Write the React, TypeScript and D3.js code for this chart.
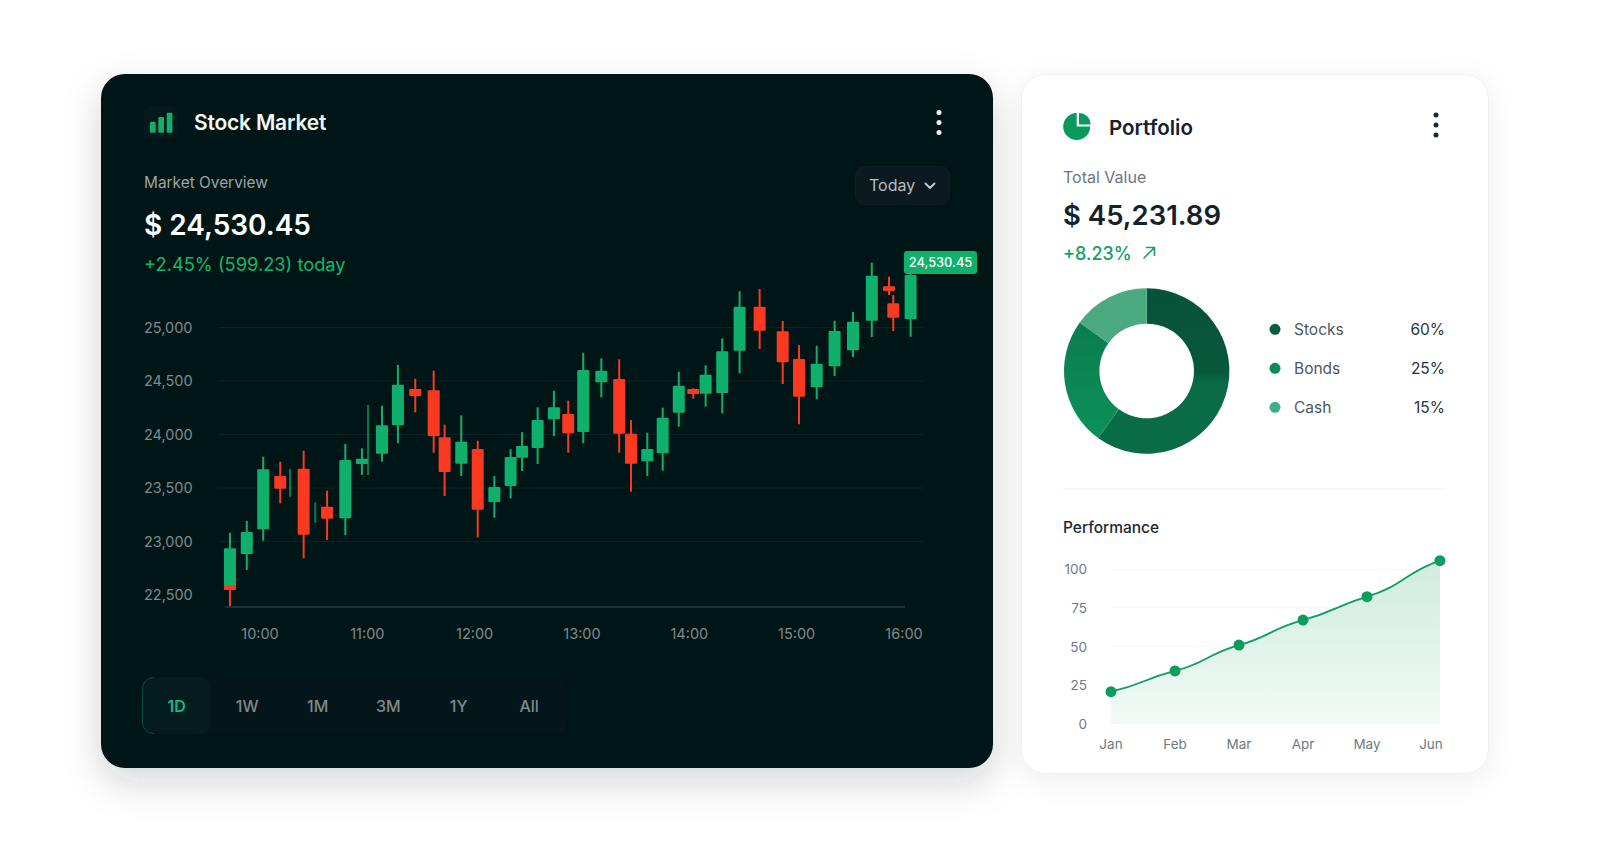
import * as d3 from "d3";

const FONT = "Inter, 'Noto Sans', sans-serif";

// candles: minutes after 10:00 and prices
const candleTimes = [-16.8, -16.8, -7.4, 1.8, 11.3, 16.8, 24.4, 30.9, 37.5, 47.7, 57, 60.4, 68.2, 77.1, 86.8, 97.1, 103.2, 112.5, 121.7, 131, 140.1, 146.5, 155.2, 164.3, 172.3, 180.7, 190.8, 200.8, 207.4, 216.5, 225.1, 234.1, 242.2, 249.1, 258.4, 268.1, 279.3, 292.2, 301.3, 311.2, 321.2, 331.5, 342, 351.6, 354, 363.7];
const candleOpens = [22563, 22593, 22883, 23114, 23612, 23550, 23680, 23270, 23325, 23217, 23724, 23950, 23821, 24086, 24425, 24413, 23974, 23727, 23864, 23369, 23519, 23783, 23874, 24142, 24192, 24023, 24488, 24519, 24007, 23750, 23824, 24204, 24425, 24381, 24388, 24783, 25194, 24964, 24706, 24441, 24637, 24787, 25064, 25385, 25226, 25077];
const candleCloses = [22936, 22547, 23089, 23675, 23493, 23550, 23064, 23270, 23213, 23762, 23774, 23950, 24086, 24465, 24360, 23986, 23649, 23933, 23297, 23509, 23790, 23893, 24135, 24254, 24011, 24603, 24596, 24007, 23727, 23864, 24157, 24456, 24378, 24559, 24778, 25194, 24970, 24675, 24353, 24662, 24967, 25054, 25484, 25341, 25092, 25491];
const candleHighs = [23082, 22593, 23192, 23793, 23746, 23678, 23849, 23366, 23475, 23911, 23871, 24276, 24269, 24650, 24521, 24596, 24092, 24179, 23942, 23612, 23862, 24023, 24254, 24409, 24316, 24764, 24712, 24703, 24135, 24017, 24250, 24587, 24432, 24647, 24899, 25338, 25360, 25061, 24836, 24830, 25064, 25145, 25606, 25475, 25304, 25537];
const candleLows = [22563, 22397, 22734, 23007, 23357, 23419, 22843, 23176, 23014, 23061, 23621, 23621, 23746, 23918, 24207, 23830, 23425, 23612, 23039, 23222, 23404, 23659, 23724, 23986, 23830, 23918, 24348, 23830, 23465, 23612, 23662, 24073, 24335, 24260, 24198, 24572, 24799, 24472, 24095, 24329, 24547, 24724, 24911, 25304, 24967, 24914];

const priceTicks = [25000, 24500, 24000, 23500, 23000, 22500];
const hourLabels = ["10:00", "11:00", "12:00", "13:00", "14:00", "15:00", "16:00"];
const rangeLabels = ["1D", "1W", "1M", "3M", "1Y", "All"];

// portfolio
const allocNames = ["Stocks", "Bonds", "Cash"];
const allocValues = [60, 25, 15];
const allocColors = ["url(#stocksFill)", "url(#bondsFill)", "#4aa981"];
const allocDots = ["#0a5a40", "#0d8a5a", "#3fae84"];

// performance
const months = ["Jan", "Feb", "Mar", "Apr", "May", "Jun"];
const perfSlots = [0, 1, 2, 3, 4, 5.14];
const perfValues = [20.9, 34.3, 51, 67.2, 82.3, 105.6];
const perfTicks = [100, 75, 50, 25, 0];

const GREEN = "#0fb06c";
const RED = "#f93a20";

const x = d3.scaleLinear().domain([0, 360]).range([260, 904]);
const y = d3.scaleLinear().domain([22500, 25000]).range([595, 327.5]);
const priceFmt = d3.format(",");

const px = d3.scaleLinear().domain([0, 5]).range([1111, 1431]);
const py = d3.scaleLinear().domain([0, 100]).range([724, 569.3]);

const donutArc = d3.arc<d3.PieArcDatum<number>>().innerRadius(47.3).outerRadius(82.7);
const donutSlices = d3.pie<number>().sort(null)(allocValues);

const perfPoints = perfValues.map((v, i) => [px(perfSlots[i]), py(v)] as [number, number]);

// the line eases off at every point, so tangents are a fraction of the neighbour slope
function wavyPath(pts: [number, number][], tension: number) {
  const slope = (i: number) => {
    const a = pts[Math.max(i - 1, 0)];
    const b = pts[Math.min(i + 1, pts.length - 1)];
    return (tension * (b[1] - a[1])) / (b[0] - a[0]);
  };
  const p = d3.path();
  p.moveTo(pts[0][0], pts[0][1]);
  for (let i = 1; i < pts.length; i++) {
    const dx = (pts[i][0] - pts[i - 1][0]) / 2;
    p.bezierCurveTo(
      pts[i - 1][0] + dx,
      pts[i - 1][1] + slope(i - 1) * dx,
      pts[i][0] - dx,
      pts[i][1] - slope(i) * dx,
      pts[i][0],
      pts[i][1]
    );
  }
  return p.toString();
}

const perfLine = wavyPath(perfPoints, 0.7);
const perfArea = `${perfLine}L${perfPoints[perfPoints.length - 1][0]},${py(0)}L${perfPoints[0][0]},${py(0)}Z`;

const pieMain = d3.arc()({ innerRadius: 0, outerRadius: 13.5, startAngle: Math.PI / 2, endAngle: Math.PI * 2 }) ?? "";
const pieWedge = d3.arc()({ innerRadius: 0, outerRadius: 11.5, startAngle: 0, endAngle: Math.PI / 2 }) ?? "";

function Kebab({ cx, cy, fill }: { cx: number; cy: number; fill: string }) {
  return (
    <g fill={fill}>
      {[-10, 0, 10].map((d) => (
        <circle key={d} cx={cx} cy={cy + d} r={2.5} />
      ))}
    </g>
  );
}

export default function App() {
  return (
    <svg
      width={1600}
      height={868}
      viewBox="0 0 1600 868"
      style={{ position: "absolute", left: 0, top: 0, display: "block", fontFamily: FONT }}
    >
      <defs>
        <filter id="darkShadow" x="-10%" y="-10%" width="120%" height="130%">
          <feDropShadow dx={0} dy={14} stdDeviation={18} floodColor="#0a1a1e" floodOpacity={0.18} />
        </filter>
        <filter id="lightShadow" x="-10%" y="-10%" width="120%" height="120%">
          <feDropShadow dx={0} dy={6} stdDeviation={14} floodColor="#0a1a1e" floodOpacity={0.07} />
        </filter>
        <linearGradient id="areaFill" x1="0" y1="0" x2="0" y2="1">
          <stop offset="0%" stopColor="#cfecdd" />
          <stop offset="100%" stopColor="#f1faf6" />
        </linearGradient>
        <linearGradient id="stocksFill" gradientUnits="userSpaceOnUse" x1={0} y1={-82} x2={0} y2={82}>
          <stop offset="0%" stopColor="#07533a" />
          <stop offset="50%" stopColor="#07573b" />
          <stop offset="58%" stopColor="#0a6b47" />
          <stop offset="100%" stopColor="#0a6b47" />
        </linearGradient>
        <linearGradient id="bondsFill" gradientUnits="userSpaceOnUse" x1={0} y1={-60} x2={0} y2={70}>
          <stop offset="0%" stopColor="#0b7a50" />
          <stop offset="100%" stopColor="#0b9159" />
        </linearGradient>
      </defs>

      <rect width={1600} height={868} fill="#ffffff" />

      {/* dark card */}
      <rect x={101} y={74} width={892} height={694} rx={24} fill="#031218" filter="url(#darkShadow)" />

      <rect x={144} y={106} width={33} height={33} rx={7} fill="#05191c" />
      <g fill={GREEN}>
        <rect x={150} y={121.7} width={5.7} height={11} rx={1} />
        <rect x={158.3} y={117} width={5.7} height={15.7} rx={1} />
        <rect x={166.7} y={112.7} width={5.7} height={20} rx={1} />
      </g>
      <text x={194} y={130} fontSize={21} fontWeight={600} letterSpacing={-0.2} fill="#f4f6f6">Stock Market</text>
      <Kebab cx={939} cy={122.5} fill="#f0f2f2" />

      <text x={144} y={188} fontSize={15.4} fill="#9aa5a8">Market Overview</text>
      <text x={144} y={235} fontSize={28} fontWeight={600} fill="#ffffff">$ 24,530.45</text>
      <text x={144} y={271} fontSize={18.3} fill="#12b76f">+2.45% (599.23) today</text>

      <rect x={855.5} y={166.5} width={94} height={38} rx={9} fill="#0a1a20" stroke="#0f1f25" />
      <text x={869} y={191} fontSize={16} fill="#b5bec0">Today</text>
      <path d="M925.5 183.5 l4.5 4.5 l4.5 -4.5" fill="none" stroke="#c5cccd" strokeWidth={1.8} strokeLinecap="round" strokeLinejoin="round" />

      {/* price grid */}
      {priceTicks.slice(0, -1).map((t) => (
        <line key={t} x1={218} x2={923} y1={y(t)} y2={y(t)} stroke="#0e2024" />
      ))}
      <line x1={225} x2={905} y1={607} y2={607} stroke="#3d4a4d" />
      {priceTicks.map((t) => (
        <text key={t} x={144} y={y(t) + 5} fontSize={14.5} fill="#7f8a8d">{priceFmt(t)}</text>
      ))}
      {hourLabels.map((h, i) => (
        <text key={h} x={x(i * 60)} y={639} fontSize={14.5} fill="#7f8a8d" textAnchor="middle">{h}</text>
      ))}

      {/* candles */}
      {candleTimes.map((t, i) => {
        const o = candleOpens[i];
        const c = candleCloses[i];
        const up = c >= o;
        const col = up ? GREEN : RED;
        const cx = x(t);
        return (
          <g key={i} opacity={o === c ? 0.65 : 1}>
            <line x1={cx} x2={cx} y1={y(candleHighs[i])} y2={y(candleLows[i])} stroke={col} strokeWidth={2} />
            {o !== c && (
              <rect
                x={cx - 6}
                y={y(Math.max(o, c))}
                width={12}
                height={Math.abs(y(o) - y(c))}
                rx={1}
                fill={col}
              />
            )}
          </g>
        );
      })}

      <rect x={904} y={251} width={73} height={23} rx={3} fill={GREEN} />
      <text x={940.5} y={267} fontSize={12.8} fontWeight={500} fill="#ffffff" textAnchor="middle">24,530.45</text>

      {/* range buttons */}
      <rect x={142} y={677} width={425} height={57} rx={12} fill="#05161b" />
      <rect x={142} y={677} width={68} height={57} rx={12} fill="#051c1f" />
      <path d="M154 677.5 h-1 a11 11 0 0 0 -10.5 11 v34 a11 11 0 0 0 10.5 11 h1" fill="none" stroke="#0d4a3a" />
      {rangeLabels.map((r, i) => (
        <text
          key={r}
          x={176.7 + i * 70.5}
          y={711.5}
          fontSize={16}
          fontWeight={i === 0 ? 600 : 500}
          fill={i === 0 ? "#10b981" : "#7f8a8d"}
          textAnchor="middle"
        >
          {r}
        </text>
      ))}

      {/* portfolio card */}
      <rect x={1021.5} y={74.5} width={467} height={699} rx={24} fill="#ffffff" stroke="#eef0f0" filter="url(#lightShadow)" />

      <path d={pieMain} transform="translate(1076.7,126.5)" fill="#0b9a5e" />
      <path d={pieWedge} transform="translate(1079,124.5)" fill="#0b9a5e" />
      <text x={1109} y={134.5} fontSize={20.5} fontWeight={600} fill="#14232b">Portfolio</text>
      <Kebab cx={1436} cy={125} fill="#1b2a32" />

      <text x={1063} y={182.5} fontSize={16} fill="#6b7780">Total Value</text>
      <text x={1063} y={224.5} fontSize={27.5} fontWeight={600} fill="#14232b">$ 45,231.89</text>
      <text x={1063} y={259.5} fontSize={18} fontWeight={500} fill="#12a064">+8.23%</text>
      <path
        d="M1144 258 l10.5 -10.5 M1146.5 247.5 h8 v8"
        fill="none"
        stroke="#12a064"
        strokeWidth={1.6}
        strokeLinecap="round"
        strokeLinejoin="round"
      />

      <g transform="translate(1146.7,371)">
        {donutSlices.map((s, i) => (
          <path key={allocNames[i]} d={donutArc(s) ?? ""} fill={allocColors[i]} />
        ))}
      </g>

      {allocNames.map((n, i) => (
        <g key={n} transform={`translate(0,${329.3 + i * 39})`}>
          <circle cx={1275} cy={0} r={5.5} fill={allocDots[i]} />
          <text x={1294} y={5.5} fontSize={15.5} fill="#4b5860">{n}</text>
          <text x={1445} y={5.5} fontSize={15.5} fill="#26343c" textAnchor="end">{allocValues[i]}%</text>
        </g>
      ))}

      <line x1={1063} x2={1446} y1={489} y2={489} stroke="#eef0f1" />

      <text x={1063} y={532.5} fontSize={15.5} fontWeight={500} fill="#1c2a32">Performance</text>

      {perfTicks.slice(0, -1).map((t) => (
        <line key={t} x1={1111} x2={1440} y1={py(t)} y2={py(t)} stroke="#f7f8f8" />
      ))}
      {perfTicks.map((t) => (
        <text key={t} x={1087} y={py(t) + 5} fontSize={13.5} fill="#6e7a82" textAnchor="end">{t}</text>
      ))}
      {months.map((m, i) => (
        <text key={m} x={px(i)} y={749} fontSize={13.5} fill="#6e7a82" textAnchor="middle">{m}</text>
      ))}

      <path d={perfArea} fill="url(#areaFill)" />
      <path d={perfLine} fill="none" stroke="#0f9d63" strokeWidth={1.8} />
      {perfPoints.map((p, i) => (
        <circle key={months[i]} cx={p[0]} cy={p[1]} r={5.5} fill="#0a9d5e" />
      ))}
    </svg>
  );
}
